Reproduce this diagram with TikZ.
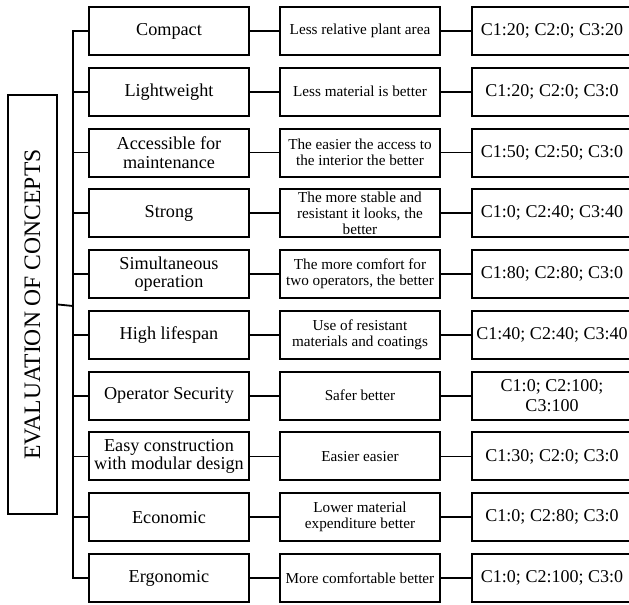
\documentclass[tikz,border=0pt]{standalone}
\usepackage{fontspec}
\setmainfont{Liberation Serif}
\usepackage{tikz}
\tikzstyle{Box}=[draw,line width=1pt,minimum height=24pt,minimum width=80pt,
inner xsep=0pt,inner ysep=0pt,align=center]
\tikzstyle{Crit}=[Box,font=\fontsize{9.1}{9.4}\selectfont]
\tikzstyle{Note}=[Box,font=\fontsize{7.6}{8.1}\selectfont]
\tikzstyle{Score}=[Box,font=\fontsize{9.0}{9.6}\selectfont]
\tikzstyle{Title}=[draw,line width=1pt,minimum width=209.5pt,
minimum height=24.5pt,inner sep=0pt,font=\fontsize{11.8}{12}\selectfont]
\tikzstyle{Edge}=[line width=0.9pt]
\begin{document}
\begin{tikzpicture}[x=0.5pt,y=-0.5pt]
    \useasboundingbox (0,0) rectangle (629,605);
        \node[Title,rotate=90](title)at(32.5,304.5){EVALUATION OF CONCEPTS};
        \coordinate(bus)at(73,306);
        % criteria
        \node[Crit](c1)at(169,31.0){Compact};
        \node[Crit](c2)at(169,91.8){Lightweight};
        \node[Crit](c3)at(169,152.6){Accessible for\\maintenance};
        \node[Crit](c4)at(169,213.3){Strong};
        \node[Crit](c5)at(169,274.1){Simultaneous\\operation};
        \node[Crit](c6)at(169,334.9){High lifespan};
        \node[Crit](c7)at(169,395.7){Operator Security};
        \node[Crit](c8)at(169,456.5){Easy construction\\with modular design};
        \node[Crit](c9)at(169,517.2){Economic};
        \node[Crit](c10)at(169,578.0){Ergonomic};
        % notes
        \node[Note](n1)at(360,31.0){Less relative plant area};
        \node[Note](n2)at(360,91.8){Less material is better};
        \node[Note](n3)at(360,152.6){The easier the access to\\the interior the better};
        \node[Note](n4)at(360,213.3){The more stable and\\resistant it looks, the\\better};
        \node[Note](n5)at(360,274.1){The more comfort for\\two operators, the better};
        \node[Note](n6)at(360,334.9){Use of resistant\\materials and coatings};
        \node[Note](n7)at(360,395.7){Safer better};
        \node[Note](n8)at(360,456.5){Easier easier};
        \node[Note](n9)at(360,517.2){Lower material\\expenditure better};
        \node[Note](n10)at(360,578.0){More comfortable better};
        % scores
        \node[Score](s1)at(552,31.0){C1:20; C2:0; C3:20};
        \node[Score](s2)at(552,91.8){C1:20; C2:0; C3:0};
        \node[Score](s3)at(552,152.6){C1:50; C2:50; C3:0};
        \node[Score](s4)at(552,213.3){C1:0; C2:40; C3:40};
        \node[Score](s5)at(552,274.1){C1:80; C2:80; C3:0};
        \node[Score](s6)at(552,334.9){C1:40; C2:40; C3:40};
        \node[Score](s7)at(552,395.7){C1:0; C2:100;\\C3:100};
        \node[Score](s8)at(552,456.5){C1:30; C2:0; C3:0};
        \node[Score](s9)at(552,517.2){C1:0; C2:80; C3:0};
        \node[Score](s10)at(552,578.0){C1:0; C2:100; C3:0};
        % tree
        \draw[Edge](title.south)--(bus);
        \draw[Edge](c1.west)-|(bus)|-(c10.west);
        \foreach \i in {2,...,9}
            \draw[Edge](c\i.west)--(c\i.west-|bus);
        \foreach \i in {1,...,10}{
            \draw[Edge](c\i)--(n\i);
            \draw[Edge](n\i)--(s\i);
        }
    \end{tikzpicture}
\end{document}
